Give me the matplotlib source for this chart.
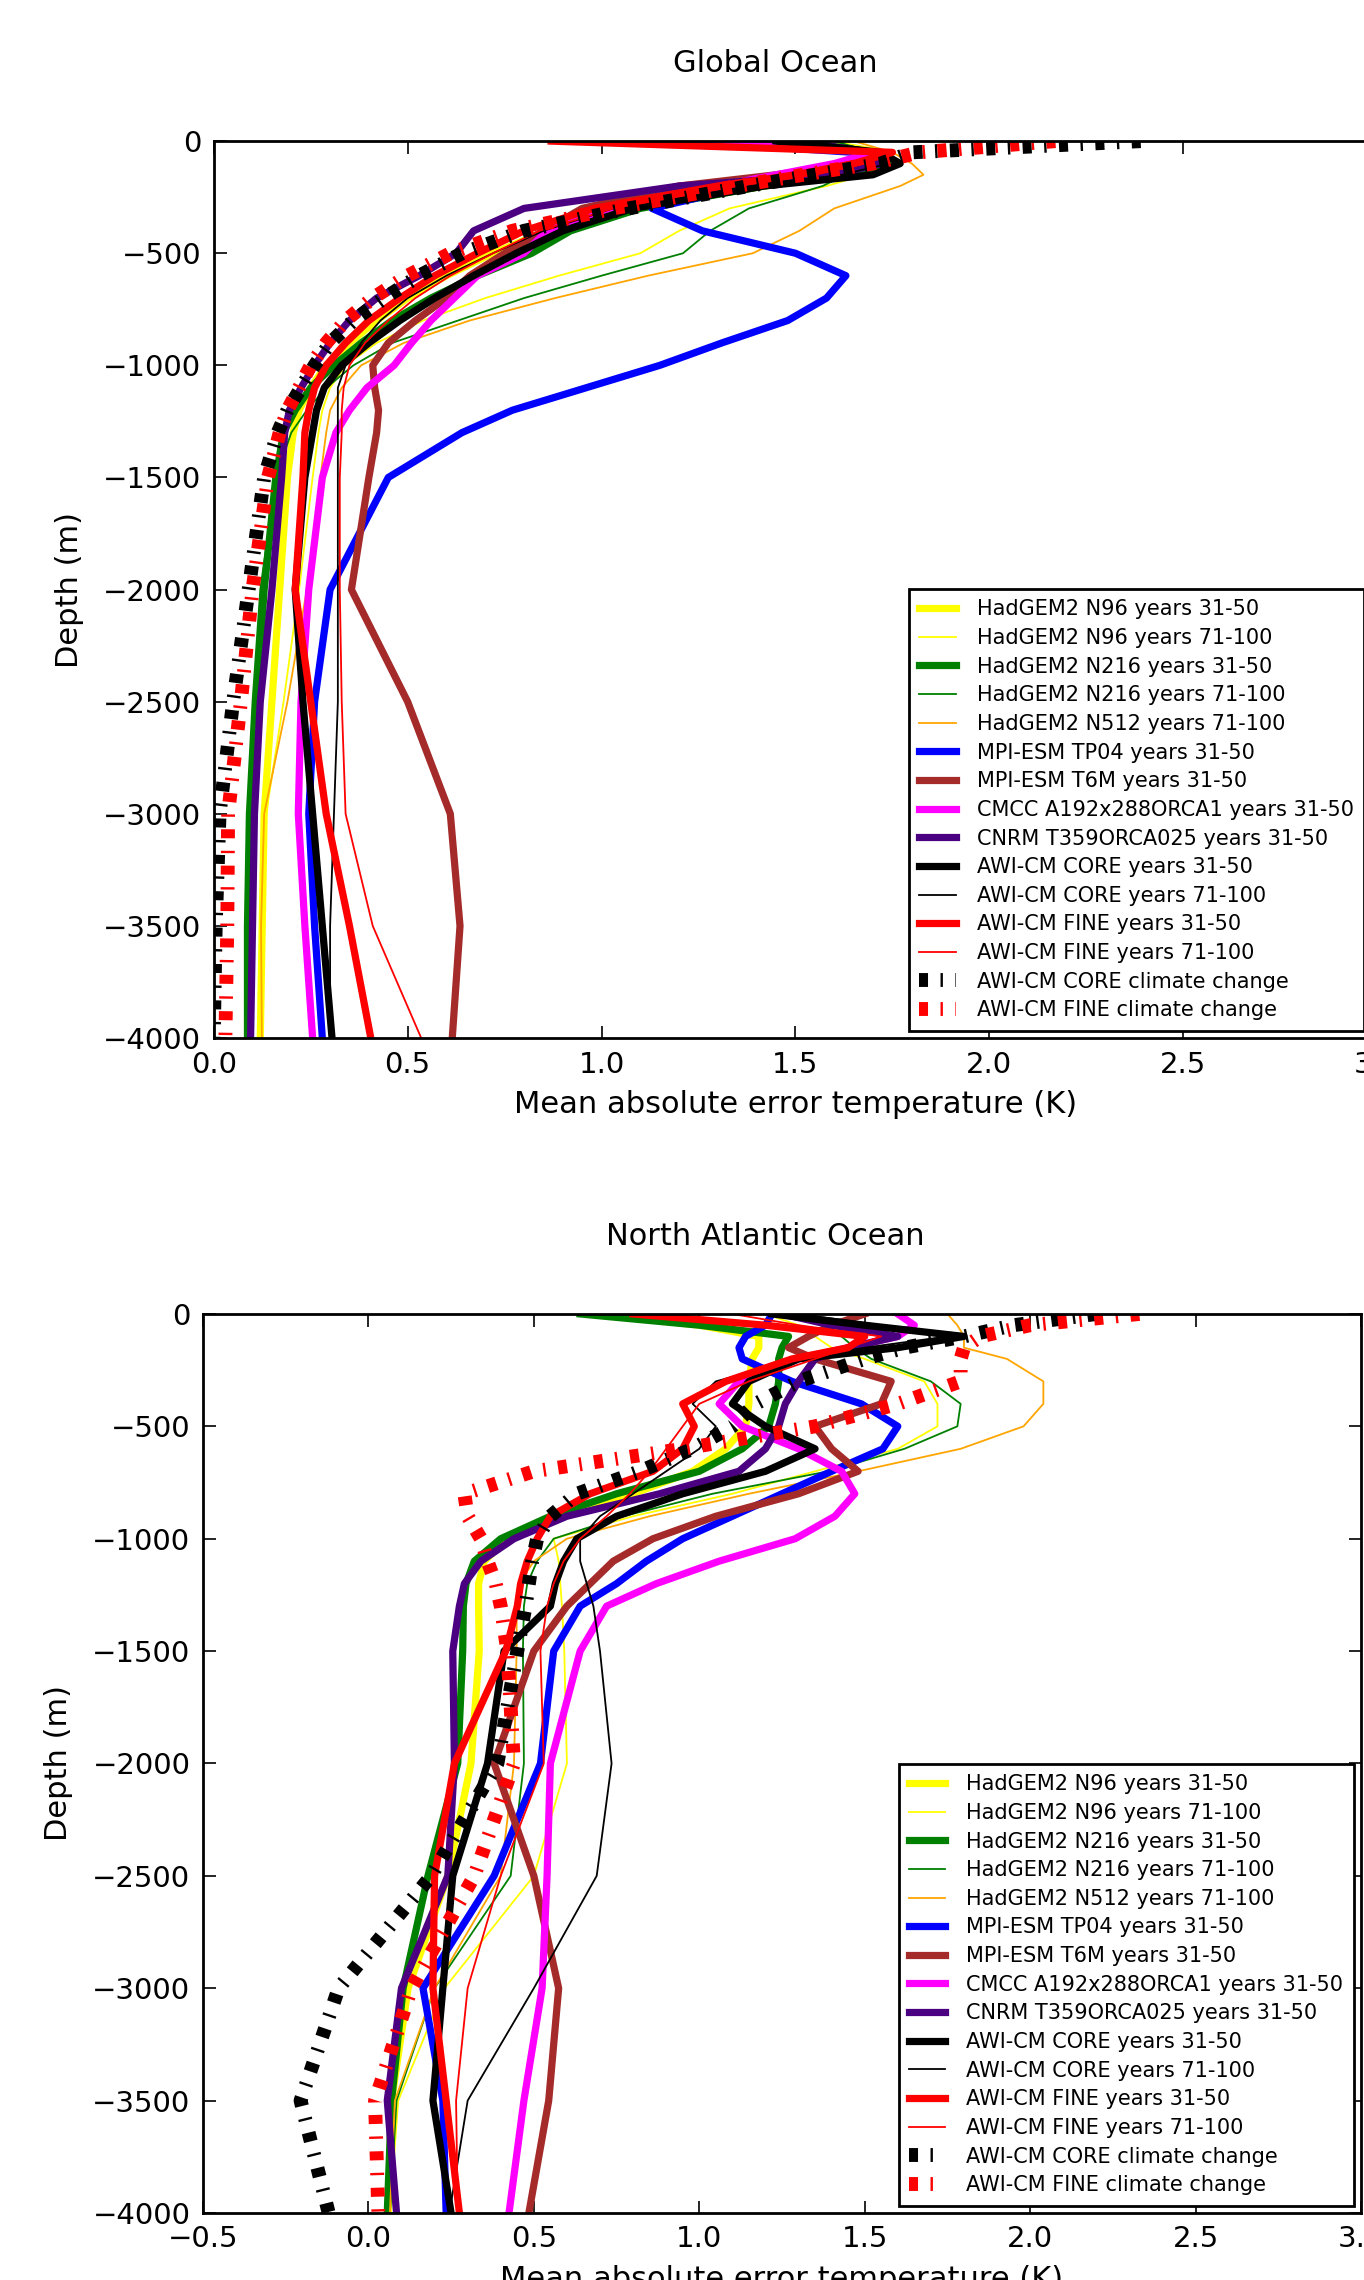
import matplotlib
matplotlib.use("Agg")
import numpy as np
import matplotlib.pyplot as plt

# depth levels (m), shared by every profile
depth = [0, 50, 100, 150, 200, 300, 400, 500, 600, 700, 800, 900, 1000,
         1100, 1200, 1300, 1500, 2000, 2500, 3000, 3500, 4000]

labels = [
    "HadGEM2 N96 years 31-50",
    "HadGEM2 N96 years 71-100",
    "HadGEM2 N216 years 31-50",
    "HadGEM2 N216 years 71-100",
    "HadGEM2 N512 years 71-100",
    "MPI-ESM TP04 years 31-50",
    "MPI-ESM T6M years 31-50",
    "CMCC A192x288ORCA1 years 31-50",
    "CNRM T359ORCA025 years 31-50",
    "AWI-CM CORE years 31-50",
    "AWI-CM CORE years 71-100",
    "AWI-CM FINE years 31-50",
    "AWI-CM FINE years 71-100",
    "AWI-CM CORE climate change",
    "AWI-CM FINE climate change",
]

# ---- Global Ocean: mean absolute error (K) at each depth level
glo_n96_3150 = [1.55, 1.72, 1.73, 1.60, 1.42, 1.08, 0.86, 0.72, 0.60, 0.50, 0.42, 0.35, 0.29,
                0.25, 0.22, 0.205, 0.19, 0.17, 0.15, 0.13, 0.125, 0.12]
glo_n96_71100 = [1.60, 1.70, 1.75, 1.68, 1.58, 1.33, 1.20, 1.10, 0.89, 0.70, 0.54, 0.42, 0.34,
                 0.30, 0.28, 0.27, 0.255, 0.22, 0.18, 0.135, 0.125, 0.125]
glo_n216_3150 = [1.50, 1.70, 1.75, 1.62, 1.42, 1.10, 0.92, 0.82, 0.68, 0.56, 0.46, 0.38, 0.31,
                 0.25, 0.21, 0.18, 0.16, 0.13, 0.11, 0.095, 0.09, 0.088]
glo_n216_71100 = [1.60, 1.70, 1.65, 1.63, 1.57, 1.38, 1.28, 1.21, 1.00, 0.80, 0.63, 0.46, 0.36,
                  0.29, 0.24, 0.20, 0.16, 0.12, 0.10, 0.085, 0.08, 0.08]
glo_n512_71100 = [1.65, 1.75, 1.80, 1.83, 1.77, 1.60, 1.51, 1.39, 1.12, 0.88, 0.66, 0.49, 0.38,
                  0.33, 0.30, 0.29, 0.275, 0.24, 0.19, 0.13, 0.122, 0.124]
glo_tp04 = [1.20, 1.65, 1.72, 1.55, 1.38, 1.13, 1.26, 1.50, 1.63, 1.58, 1.48, 1.31, 1.15,
            0.96, 0.77, 0.64, 0.45, 0.30, 0.26, 0.245, 0.26, 0.28]
glo_t6m = [1.40, 1.70, 1.65, 1.45, 1.20, 0.95, 0.85, 0.75, 0.66, 0.60, 0.52, 0.45, 0.41,
           0.415, 0.425, 0.42, 0.40, 0.355, 0.50, 0.61, 0.635, 0.615]
glo_cmcc = [1.30, 1.70, 1.60, 1.45, 1.30, 1.02, 0.86, 0.80, 0.68, 0.62, 0.56, 0.51, 0.465,
            0.395, 0.35, 0.315, 0.28, 0.245, 0.225, 0.218, 0.235, 0.255]
glo_cnrm = [1.50, 1.70, 1.72, 1.60, 1.20, 0.80, 0.67, 0.625, 0.53, 0.42, 0.35, 0.30, 0.26,
            0.225, 0.195, 0.183, 0.175, 0.15, 0.12, 0.105, 0.10, 0.095]
glo_core_3150 = [1.45, 1.72, 1.77, 1.70, 1.42, 1.08, 0.90, 0.78, 0.67, 0.57, 0.48, 0.40, 0.33,
                 0.285, 0.265, 0.255, 0.235, 0.21, 0.23, 0.255, 0.28, 0.305]
glo_core_71100 = [1.50, 1.72, 1.74, 1.62, 1.40, 1.03, 0.85, 0.72, 0.60, 0.50, 0.43, 0.38, 0.34,
                  0.32, 0.32, 0.32, 0.32, 0.32, 0.32, 0.31, 0.30, 0.30]
glo_fine_3150 = [0.87, 1.75, 1.65, 1.50, 1.30, 0.98, 0.80, 0.68, 0.57, 0.48, 0.40, 0.34, 0.29,
                 0.26, 0.245, 0.235, 0.23, 0.21, 0.25, 0.29, 0.35, 0.405]
glo_fine_71100 = [1.00, 1.70, 1.68, 1.55, 1.35, 1.03, 0.84, 0.72, 0.61, 0.52, 0.45, 0.39, 0.35,
                  0.335, 0.33, 0.33, 0.325, 0.325, 0.33, 0.34, 0.41, 0.535]
glo_core_cc = [2.39, 1.80, 1.72, 1.55, 1.38, 1.07, 0.80, 0.64, 0.53, 0.44, 0.36, 0.30, 0.26,
               0.225, 0.19, 0.165, 0.13, 0.09, 0.05, 0.015, 0.005, 0.0]
glo_fine_cc = [2.17, 1.82, 1.70, 1.52, 1.35, 1.03, 0.77, 0.61, 0.50, 0.41, 0.34, 0.29, 0.25,
               0.22, 0.19, 0.17, 0.14, 0.10, 0.07, 0.037, 0.035, 0.03]

# ---- North Atlantic Ocean
na_n96_3150 = [0.70, 1.00, 1.18, 1.18, 1.16, 1.15, 1.15, 1.14, 1.08, 0.98, 0.80, 0.56, 0.42,
               0.35, 0.333, 0.333, 0.335, 0.31, 0.24, 0.12, 0.07, 0.06]
na_n96_71100 = [1.20, 1.30, 1.35, 1.40, 1.50, 1.68, 1.72, 1.72, 1.60, 1.35, 1.10, 0.80, 0.56,
                0.575, 0.58, 0.585, 0.592, 0.60, 0.50, 0.23, 0.09, 0.065]
na_n216_3150 = [0.64, 1.00, 1.27, 1.25, 1.24, 1.24, 1.23, 1.21, 1.13, 1.00, 0.75, 0.55, 0.40,
                0.32, 0.295, 0.287, 0.285, 0.27, 0.18, 0.105, 0.07, 0.057]
na_n216_71100 = [1.30, 1.38, 1.43, 1.47, 1.52, 1.70, 1.79, 1.78, 1.62, 1.39, 1.04, 0.77, 0.56,
                 0.51, 0.48, 0.47, 0.467, 0.47, 0.43, 0.20, 0.085, 0.065]
na_n512_71100 = [1.75, 1.78, 1.80, 1.80, 1.93, 2.04, 2.04, 1.98, 1.79, 1.48, 1.15, 0.85, 0.60,
                 0.50, 0.455, 0.448, 0.448, 0.44, 0.40, 0.20, 0.08, 0.065]
na_tp04 = [1.22, 1.20, 1.14, 1.12, 1.13, 1.28, 1.49, 1.60, 1.555, 1.40, 1.25, 1.10, 0.95,
           0.84, 0.75, 0.64, 0.56, 0.52, 0.38, 0.165, 0.225, 0.235]
na_t6m = [1.50, 1.40, 1.33, 1.27, 1.35, 1.58, 1.55, 1.35, 1.40, 1.48, 1.30, 1.05, 0.86,
          0.74, 0.67, 0.60, 0.50, 0.38, 0.50, 0.575, 0.545, 0.485]
na_cmcc = [1.60, 1.65, 1.60, 1.45, 1.30, 1.12, 1.06, 1.13, 1.30, 1.43, 1.47, 1.41, 1.29,
           1.06, 0.87, 0.72, 0.64, 0.55, 0.54, 0.525, 0.47, 0.425]
na_cnrm = [1.25, 1.40, 1.60, 1.45, 1.35, 1.30, 1.26, 1.24, 1.20, 1.12, 0.88, 0.60, 0.44,
           0.34, 0.29, 0.275, 0.255, 0.26, 0.24, 0.10, 0.057, 0.085]
na_core_3150 = [1.22, 1.50, 1.80, 1.60, 1.30, 1.15, 1.10, 1.20, 1.35, 1.20, 0.95, 0.75, 0.63,
                0.59, 0.565, 0.55, 0.41, 0.36, 0.255, 0.225, 0.195, 0.25]
na_core_71100 = [1.30, 1.55, 1.75, 1.50, 1.30, 1.05, 0.98, 1.05, 1.00, 0.90, 0.80, 0.70, 0.64,
                 0.64, 0.66, 0.68, 0.70, 0.735, 0.69, 0.50, 0.30, 0.245]
na_fine_3150 = [0.80, 1.20, 1.50, 1.45, 1.28, 1.08, 0.95, 0.985, 0.95, 0.86, 0.67, 0.55, 0.51,
                0.48, 0.46, 0.45, 0.415, 0.26, 0.20, 0.195, 0.235, 0.275]
na_fine_71100 = [1.10, 1.30, 1.55, 1.45, 1.35, 1.15, 1.00, 0.95, 0.90, 0.85, 0.79, 0.72, 0.64,
                 0.59, 0.56, 0.54, 0.52, 0.53, 0.40, 0.30, 0.265, 0.27]
na_core_cc = [2.20, 1.95, 1.80, 1.62, 1.50, 1.30, 1.17, 1.10, 0.98, 0.82, 0.63, 0.55, 0.51,
              0.495, 0.485, 0.475, 0.45, 0.39, 0.19, -0.09, -0.205, -0.12]
na_fine_cc = [2.33, 2.00, 1.85, 1.80, 1.79, 1.79, 1.60, 1.35, 0.95, 0.50, 0.29, 0.30, 0.34,
              0.36, 0.385, 0.40, 0.42, 0.44, 0.32, 0.13, 0.02, 0.03]

glo_series = [glo_n96_3150, glo_n96_71100, glo_n216_3150, glo_n216_71100, glo_n512_71100,
              glo_tp04, glo_t6m, glo_cmcc, glo_cnrm, glo_core_3150, glo_core_71100,
              glo_fine_3150, glo_fine_71100, glo_core_cc, glo_fine_cc]
na_series = [na_n96_3150, na_n96_71100, na_n216_3150, na_n216_71100, na_n512_71100,
             na_tp04, na_t6m, na_cmcc, na_cnrm, na_core_3150, na_core_71100,
             na_fine_3150, na_fine_71100, na_core_cc, na_fine_cc]

# line styles, in legend order
colors = ["yellow", "yellow", "green", "green", "orange", "blue", "brown", "magenta",
          "indigo", "black", "black", "red", "red", "black", "red"]
kinds = ["thick", "thin", "thick", "thin", "thin", "thick", "thick", "thick",
         "thick", "thick", "thin", "thick", "thin", "cc", "cc"]

plt.rcParams["font.family"] = "DejaVu Sans"
plt.rcParams["lines.solid_capstyle"] = "projecting"


def draw_panel(ax, series, title, xlim, title_x, leg_x):
    y = -np.array(depth)
    for vals, color, kind, label in zip(series, colors, kinds, labels):
        if kind == "thick":
            ax.plot(vals, y, color=color, lw=5.2, label=label)
        elif kind == "thin":
            ax.plot(vals, y, color=color, lw=1.3, label=label)
        else:
            ax.plot(vals, y, color=color, lw=10, label=label,
                    dashes=(0.65, 0.9, 0.17, 0.9))
    ax.set_xlim(*xlim)
    ax.set_ylim(-4000, 0)
    ax.set_xticks(np.arange(xlim[0], 3.01, 0.5))
    ax.set_yticks(np.arange(-4000, 1, 500))
    ax.tick_params(direction="in", length=9, width=1.2, labelsize=21, pad=9,
                   top=True, right=True)
    for sp in ax.spines.values():
        sp.set_linewidth(2)
    ax.set_title(title, fontsize=22, pad=50, x=title_x)
    ax.set_xlabel("Mean absolute error temperature (K)", fontsize=22, labelpad=8)
    ax.set_ylabel("Depth (m)", fontsize=22, labelpad=14)
    leg = ax.legend(loc="lower right", bbox_to_anchor=(leg_x, 0.0),
                    fontsize=15, labelspacing=0.415,
                    borderpad=0.5, handlelength=1.75, handletextpad=1.0,
                    borderaxespad=0.35, fancybox=False, framealpha=1)
    leg.get_frame().set_edgecolor("black")
    leg.get_frame().set_linewidth(2)


fig = plt.figure(figsize=(13.64, 22.8), dpi=100)
ax1 = fig.add_axes([0.1567, 0.5447, 0.853, 0.3934])
ax2 = fig.add_axes([0.1488, 0.0294, 0.849, 0.3943])

draw_panel(ax1, glo_series, "Global Ocean", (0.0, 3.0), 0.4825, 0.995)
draw_panel(ax2, na_series, "North Atlantic Ocean", (-0.5, 3.0), 0.486, 1.0)

fig.savefig("out.png", dpi=100)
